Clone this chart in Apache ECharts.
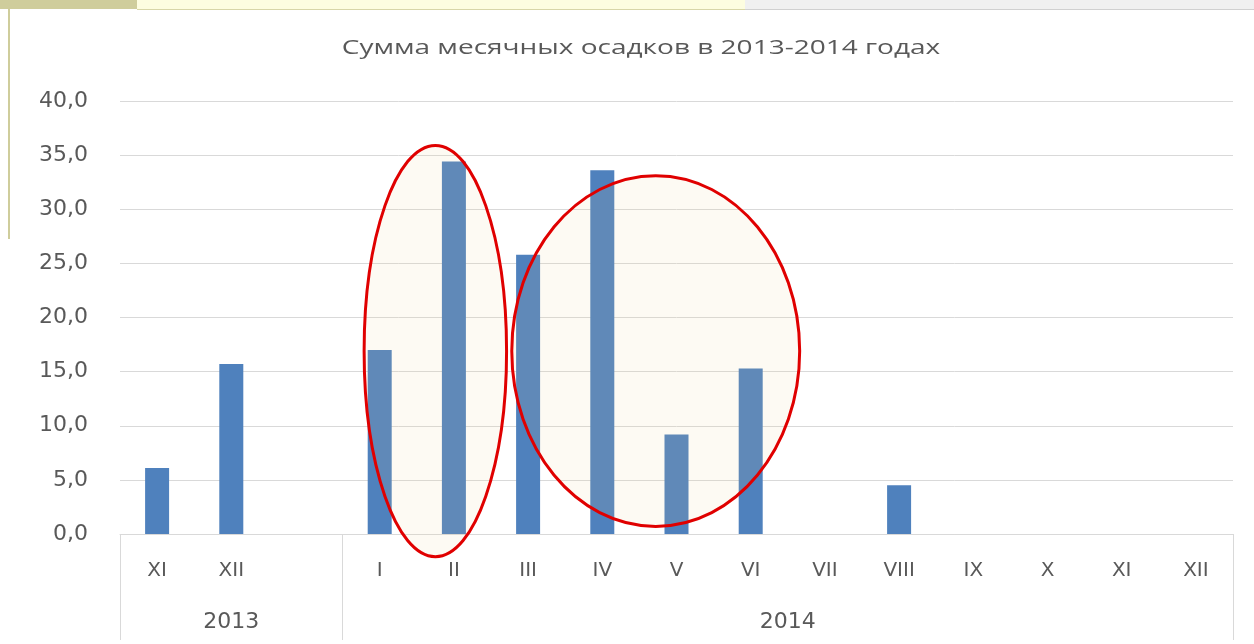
<!DOCTYPE html>
<html>
<head>
<meta charset="utf-8">
<script src="https://cdn.jsdelivr.net/npm/echarts@6/dist/echarts.min.js"></script>
<style>
  html, body { margin: 0; padding: 0; background: #fff; }
  #main { width: 1254px; height: 644px; }
  .strip { position: absolute; top: 0; height: 9px; }
</style>
</head>
<body>
<div class="strip" style="left:0;width:137px;background:#cfcd9c;"></div>
<div class="strip" style="left:137px;width:608px;background:#fdfde0;border-bottom:1px solid #d8d6a8;"></div>
<div class="strip" style="left:745px;width:509px;background:#f0f0f0;border-bottom:1px solid #d0d0d0;"></div>
<div style="position:absolute;left:8px;top:9px;width:2px;height:230px;background:#cfcd9c;"></div>
<div id="main"></div>
<script>
// месяцы (пустая категория разделяет годы)
var months = ['XI', 'XII', '', 'I', 'II', 'III', 'IV', 'V', 'VI', 'VII', 'VIII', 'IX', 'X', 'XI', 'XII'];
var rainfall = [6.1, 15.7, null, 17.0, 34.4, 25.8, 33.6, 9.2, 15.3, 0, 4.5, 0, 0, 0, 0];
var years = ['2013', '2014'];
var yearSpans = [[0, 3], [3, 15]];   // границы групп в категориях
var yTicks = [0, 5, 10, 15, 20, 25, 30, 35, 40];
var titleText = 'Сумма месячных осадков в 2013-2014 годах';

// овалы-выделения: центр (индекс категории, значение), радиусы (категории, значения)
var ovals = [
  {cx: 3.75, cy: 16.9, rx: 0.96, ry: 19.0},
  {cx: 6.72, cy: 16.9, rx: 1.94, ry: 16.2}
];

var grey = '#595959';
var font = 'DejaVu Sans';
var chart = echarts.init(document.getElementById('main'));

var yearLabelPos = yearSpans.map(function (s) { return (s[0] + s[1]) / 2; });
var yearTickPos = [yearSpans[0][0]].concat(yearSpans.map(function (s) { return s[1]; }));

var option = {
  animation: false,
  grid: {left: 120, right: 21, top: 101, bottom: 110},
  xAxis: [{
    type: 'category',
    data: months,
    axisLine: {lineStyle: {color: '#d9d9d9'}},
    axisTick: {show: false},
    axisLabel: {color: grey, fontSize: 20, fontFamily: font, margin: 27, interval: 0}
  }, {
    type: 'value',
    position: 'bottom',
    min: 0,
    max: months.length,
    axisLine: {show: false},
    splitLine: {show: false},
    axisTick: {show: true, customValues: yearTickPos, length: 106, lineStyle: {color: '#d9d9d9'}},
    axisLabel: {
      customValues: yearLabelPos,
      margin: 77,
      color: grey, fontSize: 22, fontFamily: font,
      formatter: function (v) {
        var i = yearLabelPos.indexOf(v);
        return i >= 0 ? years[i] : '';
      }
    }
  }],
  yAxis: {
    type: 'value',
    min: yTicks[0],
    max: yTicks[yTicks.length - 1],
    interval: 5,
    axisLine: {show: false},
    axisTick: {show: false},
    splitLine: {lineStyle: {color: '#d9d9d9'}},
    axisLabel: {
      color: grey, fontSize: 22, fontFamily: font, margin: 32,
      formatter: function (v) { return v.toFixed(1).replace('.', ','); }
    }
  },
  series: [{
    type: 'bar',
    data: rainfall,
    barWidth: 24,
    itemStyle: {color: '#4f81bd'}
  }]
};
chart.setOption(option);

// заголовок растянут по ширине, как на картинке
var g = [{
  type: 'text',
  x: 641, y: 48,
  scaleX: 1.4,
  style: {text: titleText, fill: grey, font: '20px "Open Sans"', textAlign: 'center', textVerticalAlign: 'middle'}
}];

// овалы считаем через оси графика
ovals.forEach(function (o) {
  var cx = chart.convertToPixel({xAxisIndex: 1}, o.cx + 0.5);
  var cy = chart.convertToPixel({yAxisIndex: 0}, o.cy);
  var rx = chart.convertToPixel({xAxisIndex: 1}, o.cx + 0.5 + o.rx) - cx;
  var ry = cy - chart.convertToPixel({yAxisIndex: 0}, o.cy + o.ry);
  g.push({
    type: 'ellipse',
    z: 100,
    shape: {cx: cx, cy: cy, rx: rx, ry: ry},
    style: {fill: 'rgba(235,205,150,0.11)', stroke: '#e00000', lineWidth: 3}
  });
});
chart.setOption({graphic: g});
</script>
</body>
</html>
